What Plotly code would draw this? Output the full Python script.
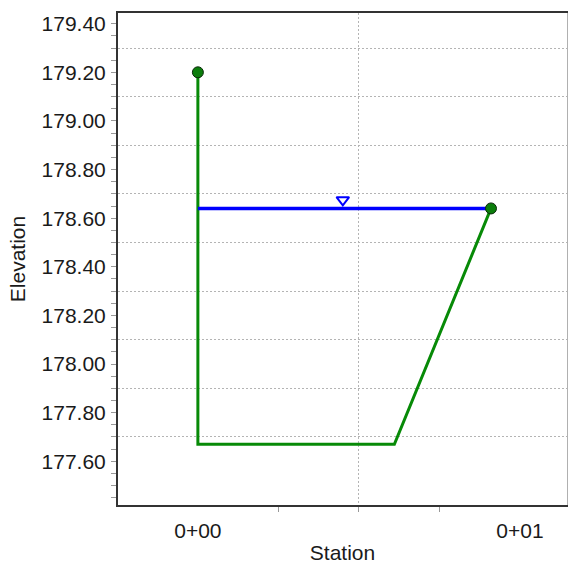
import plotly.graph_objects as go

# Cross-section ground profile (station in hundreds-of-feet units, elevation in ft)
ground_station = [0.0, 0.0, 0.61, 0.91]
ground_elev = [179.20, 177.67, 177.67, 178.64]

# Bank points marked at the ends of the profile
bank_station = [0.0, 0.91]
bank_elev = [179.20, 178.64]

# Water surface
ws_elev = 178.64
ws_station = [0.0, 0.91]
ws_symbol_station = 0.45
ws_symbol_elev = 178.675

# Axis tick labels
y_label_vals = [177.60, 177.80, 178.00, 178.20, 178.40, 178.60, 178.80, 179.00, 179.20, 179.40]
y_grid_vals = [177.70, 177.90, 178.10, 178.30, 178.50, 178.70, 178.90, 179.10, 179.30]
x_label_vals = [0.0, 1.0]
x_label_text = ["0+00", "0+01"]
x_minor_vals = [0.25, 0.5, 0.75]
x_grid_vals = [0.5]

X_RANGE = [-0.248, 1.146]
Y_RANGE = [177.42, 179.444]

FONT = "Liberation Sans, Arial, sans-serif"
TXT = "#1a1a1a"
GREEN = "#078a07"
BLUE = "#0000ff"
GRID = "#b4b4b4"

fig = go.Figure()

fig.add_trace(go.Scatter(
    x=ground_station, y=ground_elev, mode="lines",
    line=dict(color=GREEN, width=3), hoverinfo="skip", showlegend=False,
))
fig.add_trace(go.Scatter(
    x=ws_station, y=[ws_elev] * len(ws_station), mode="lines",
    line=dict(color=BLUE, width=3.5), hoverinfo="skip", showlegend=False,
))
fig.add_trace(go.Scatter(
    x=bank_station, y=bank_elev, mode="markers",
    marker=dict(size=11, color="#0b7d0b", line=dict(color="#0a2a0a", width=1)),
    hoverinfo="skip", showlegend=False,
))
# Water surface marker, drawn on the overlay axes that carry the gridlines
fig.add_trace(go.Scatter(
    x=[ws_symbol_station], y=[ws_symbol_elev], mode="markers",
    marker=dict(symbol="triangle-down-open", size=11, color=BLUE, line=dict(width=2, color=BLUE)),
    xaxis="x2", yaxis="y2", hoverinfo="skip", showlegend=False,
))

fig.update_layout(
    width=568, height=564,
    margin=dict(l=118, r=1, t=13, b=59),
    paper_bgcolor="white", plot_bgcolor="white",
    font=dict(family=FONT, size=21, color=TXT),
    xaxis=dict(
        range=X_RANGE, tickmode="array", tickvals=x_label_vals, ticktext=x_label_text,
        ticks="outside", ticklen=6, tickcolor="rgba(0,0,0,0)",
        showgrid=False, zeroline=False,
        showline=True, linecolor="#333333", linewidth=2, mirror=True,
        minor=dict(tickmode="array", tickvals=x_minor_vals, ticks="outside",
                   ticklen=5, tickcolor="#999999", tickwidth=1, showgrid=False),
        title=dict(text="Station", standoff=6, font=dict(size=21)),
        tickfont=dict(size=21),
    ),
    yaxis=dict(
        range=Y_RANGE, tickmode="array", tickvals=y_label_vals,
        ticktext=[f"{v:.2f}" for v in y_label_vals],
        ticks="outside", ticklen=6, tickcolor="rgba(0,0,0,0)",
        showgrid=False, zeroline=False,
        showline=True, linecolor="#333333", linewidth=2, mirror=False,
        minor=dict(tick0=177.60, dtick=0.05, ticks="outside",
                   ticklen=5, tickcolor="#999999", tickwidth=1, showgrid=False),
        title=dict(text="Elevation", standoff=10, font=dict(size=21)),
        tickfont=dict(size=21),
    ),
    xaxis2=dict(
        range=X_RANGE, overlaying="x", anchor="y2", tickmode="array", tickvals=x_grid_vals,
        showticklabels=False, ticks="", showgrid=True, gridcolor=GRID,
        griddash="2px,2px", gridwidth=1, zeroline=False, showline=False,
    ),
    yaxis2=dict(
        range=Y_RANGE, overlaying="y", anchor="x2", side="right", tickmode="array",
        tickvals=y_grid_vals, showticklabels=False, ticks="", showgrid=True,
        gridcolor=GRID, griddash="2px,2px", gridwidth=1, zeroline=False,
        showline=True, linecolor="#b0b0b0", linewidth=1,
    ),
)

fig.write_html("out.html")
